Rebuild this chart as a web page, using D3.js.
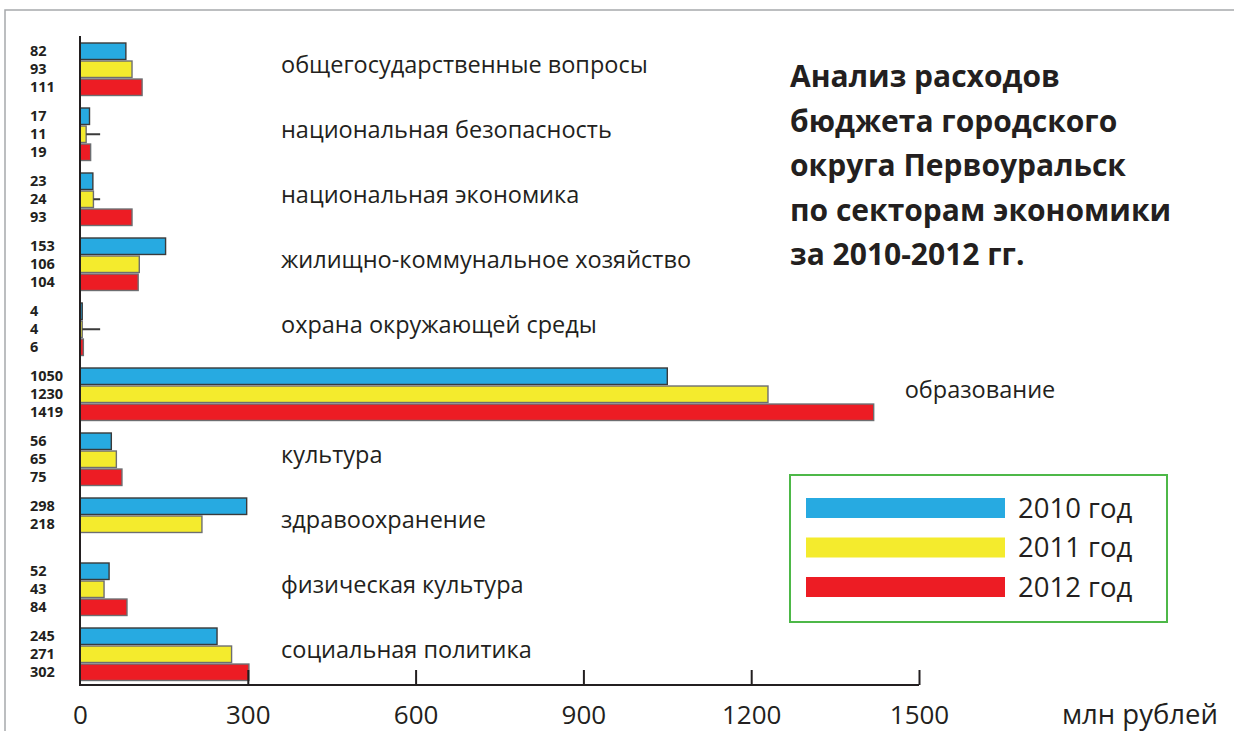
<!DOCTYPE html>
<html>
<head>
<meta charset="utf-8">
<script src="https://cdn.jsdelivr.net/npm/d3@7/dist/d3.min.js"></script>
<style>
  html, body { margin: 0; padding: 0; background: #fff; }
  svg { display: block; }
</style>
</head>
<body>
<svg id="chart" width="1234" height="731"></svg>
<script>
// ---- data ----
const categories = [
  "общегосударственные вопросы",
  "национальная безопасность",
  "национальная экономика",
  "жилищно-коммунальное хозяйство",
  "охрана окружающей среды",
  "образование",
  "культура",
  "здравоохранение",
  "физическая культура",
  "социальная политика"
];
const years = ["2010", "2011", "2012"];
const values2010 = [82, 17, 23, 153, 4, 1050, 56, 298, 52, 245];
const values2011 = [93, 11, 24, 106, 4, 1230, 65, 218, 43, 271];
const values2012 = [111, 19, 93, 104, 6, 1419, 75, null, 84, 302];
const legendLabels = ["2010 год", "2011 год", "2012 год"];
const xTicks = [0, 300, 600, 900, 1200, 1500];
const xUnit = "млн рублей";
const titleLines = ["Анализ расходов", "бюджета городского", "округа Первоуральск", "по секторам экономики", "за 2010-2012 гг."];
// small leader strokes seen next to some 2011 bars (category index, end value)
const leaderCats = [1, 2, 4];
const leaderEnd = 36;

const colors = ["#27aae1", "#f4eb2d", "#ed1c24"];
const textColor = "#231f20";
const font = "'Open Sans', 'Noto Sans', sans-serif";

const seriesValues = [values2010, values2011, values2012];
const rows = categories.map((c, i) => ({
  cat: c,
  vals: years.map((y, j) => ({ year: y, j, v: seriesValues[j][i] }))
}));

const svg = d3.select("#chart");

// frame
svg.append("path")
  .attr("d", "M5,731 L5,10 L1234,10")
  .attr("fill", "none").attr("stroke", "#a7a9ac").attr("stroke-width", 1.5);

const x = d3.scaleLinear().domain([0, 1500]).range([80, 919]);
const y0 = d3.scaleBand().domain(categories).range([36.75, 686.75])
  .paddingInner(12.5 / 65).paddingOuter(6.25 / 65);
const y1 = d3.scaleBand().domain(years).range([0, y0.bandwidth()]).paddingInner(1.5 / 17.5);

const g = svg.append("g");

// bars
const groups = g.selectAll("g.grp").data(rows).join("g")
  .attr("class", "grp")
  .attr("transform", d => `translate(0,${y0(d.cat)})`);

groups.selectAll("rect").data(d => d.vals.filter(v => v.v != null)).join("rect")
  .attr("x", x(0))
  .attr("y", d => y1(d.year))
  .attr("width", d => x(d.v) - x(0))
  .attr("height", y1.bandwidth())
  .attr("fill", d => colors[d.j])
  .attr("stroke", d => d.j === 0 ? "#3a3a3a" : "#6d6e71")
  .attr("stroke-width", 1.4);

// leaders
leaderCats.forEach(i => {
  const v = values2011[i];
  g.append("line")
    .attr("x1", x(v)).attr("x2", x(leaderEnd))
    .attr("y1", y0(categories[i]) + y1("2011") + y1.bandwidth() / 2)
    .attr("y2", y0(categories[i]) + y1("2011") + y1.bandwidth() / 2)
    .attr("stroke", "#3a3a3a").attr("stroke-width", 2);
});

// value labels
groups.selectAll("text.val").data(d => d.vals.filter(v => v.v != null)).join("text")
  .attr("class", "val")
  .attr("x", 30)
  .attr("y", d => y1(d.year) + y1.bandwidth() / 2)
  .attr("dy", "0.33em")
  .attr("font-family", font).attr("font-weight", 700).attr("font-size", 14.5)
  .attr("fill", textColor)
  .text(d => d.v);

// category labels
groups.append("text")
  .attr("x", d => Math.max(281, x(d3.max(d.vals, v => v.v)) + 31))
  .attr("y", y0.bandwidth() / 2 - 4)
  .attr("dy", "0.35em")
  .attr("font-family", font).attr("font-size", 23.5)
  .attr("fill", textColor)
  .text(d => d.cat);

// axes
const xAxis = d3.axisBottom(x).tickValues(xTicks).tickFormat(d3.format("d")).tickSize(0).tickPadding(0);
const ax = svg.append("g").attr("transform", `translate(0,685)`).call(xAxis);
ax.select(".domain").remove();
ax.selectAll(".tick text")
  .attr("y", 39)
  .attr("dy", 0)
  .attr("font-family", font).attr("font-size", 26)
  .attr("fill", textColor);
ax.selectAll(".tick").filter(d => d > 0).append("line")
  .attr("y1", 0).attr("y2", -15)
  .attr("stroke", textColor).attr("stroke-width", 2);
svg.append("line").attr("x1", x(0)).attr("x2", x(1500)).attr("y1", 685).attr("y2", 685)
  .attr("stroke", textColor).attr("stroke-width", 2);
svg.append("line").attr("x1", x(0)).attr("x2", x(0)).attr("y1", 36).attr("y2", 686)
  .attr("stroke", textColor).attr("stroke-width", 2);
svg.append("text")
  .attr("x", 1218).attr("y", 724).attr("text-anchor", "end")
  .attr("font-family", font).attr("font-size", 27.5).attr("fill", textColor)
  .text(xUnit);

// title
svg.append("g").selectAll("text").data(titleLines).join("text")
  .attr("x", 790)
  .attr("y", (d, i) => 87 + i * 44.5)
  .attr("font-family", font).attr("font-weight", 700).attr("font-size", 30)
  .attr("fill", textColor)
  .text(d => d);

// legend
const lg = svg.append("g");
lg.append("rect").attr("x", 790).attr("y", 475).attr("width", 377).attr("height", 147)
  .attr("fill", "none").attr("stroke", "#4db848").attr("stroke-width", 2);
const ly = d3.scalePoint().domain(years).range([508, 587]);
lg.selectAll("rect.sw").data(years).join("rect").attr("class", "sw")
  .attr("x", 806).attr("y", d => ly(d) - 10).attr("width", 199).attr("height", 20)
  .attr("fill", (d, i) => colors[i]);
lg.selectAll("text").data(years).join("text")
  .attr("x", 1018).attr("y", d => ly(d)).attr("dy", "0.35em")
  .attr("font-family", font).attr("font-size", 27.5).attr("fill", textColor)
  .text((d, i) => legendLabels[i]);
</script>
</body>
</html>
